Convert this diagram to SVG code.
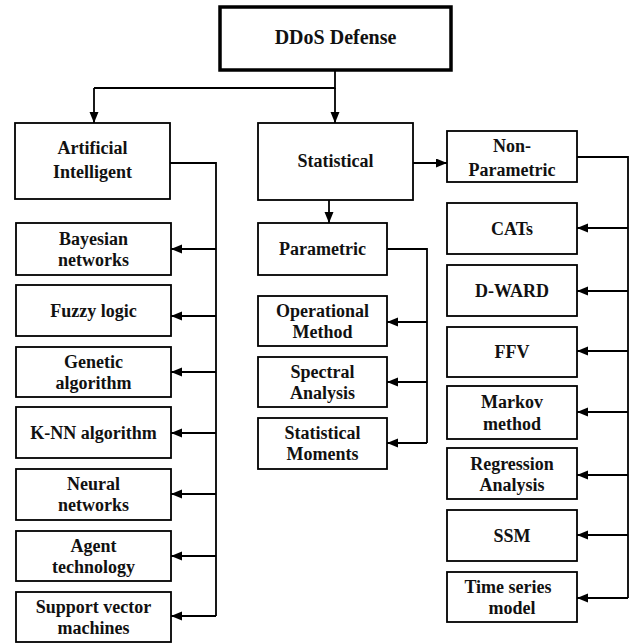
<svg xmlns="http://www.w3.org/2000/svg" width="634" height="644" viewBox="0 0 634 644">
<style>
.box{fill:#fff;stroke:#000;stroke-width:1.8}
.top{fill:#fff;stroke:#000;stroke-width:3.5}
.c{fill:none;stroke:#000;stroke-width:1.8}
</style>
<defs>
<marker id="ah" markerUnits="userSpaceOnUse" markerWidth="12" markerHeight="10" refX="11" refY="4.5" orient="auto"><path d="M0,0 L11,4.5 L0,9 z" fill="#000"/></marker>
</defs>
<rect width="634" height="644" fill="#fff"/>
<g id="connectors">
<path class="c" d="M335,70 V88 H94" />
<path class="c" d="M94,88 V123" marker-end="url(#ah)"/>
<path class="c" d="M335,88 V123" marker-end="url(#ah)"/>
<path class="c" d="M170,163 H216 V616"/>
<path class="c" d="M216,249 H171" marker-end="url(#ah)"/>
<path class="c" d="M216,316 H171" marker-end="url(#ah)"/>
<path class="c" d="M216,372 H171" marker-end="url(#ah)"/>
<path class="c" d="M216,433 H171" marker-end="url(#ah)"/>
<path class="c" d="M216,494 H171" marker-end="url(#ah)"/>
<path class="c" d="M216,556 H171" marker-end="url(#ah)"/>
<path class="c" d="M216,616 H171" marker-end="url(#ah)"/>
<path class="c" d="M413,163 H447" marker-end="url(#ah)"/>
<path class="c" d="M329,200 V223" marker-end="url(#ah)"/>
<path class="c" d="M387,249 H427 V443"/>
<path class="c" d="M427,322 H387" marker-end="url(#ah)"/>
<path class="c" d="M427,382 H387" marker-end="url(#ah)"/>
<path class="c" d="M427,443 H387" marker-end="url(#ah)"/>
<path class="c" d="M577,157 H628 V598"/>
<path class="c" d="M628,228 H577" marker-end="url(#ah)"/>
<path class="c" d="M628,291 H577" marker-end="url(#ah)"/>
<path class="c" d="M628,351 H577" marker-end="url(#ah)"/>
<path class="c" d="M628,412 H577" marker-end="url(#ah)"/>
<path class="c" d="M628,475 H577" marker-end="url(#ah)"/>
<path class="c" d="M628,535 H577" marker-end="url(#ah)"/>
<path class="c" d="M628,598 H577" marker-end="url(#ah)"/>
</g>
<g font-family="'Liberation Serif', 'Times New Roman', serif" font-weight="bold" font-size="18" text-anchor="middle" fill="#111">
<g id="ddos"><rect class="top" x="220" y="7" width="231" height="63"/><text x="335.5" y="44" font-size="20">DDoS Defense</text></g>
<g id="ai"><rect class="box" x="15" y="123" width="155" height="76"/><text x="92.5" y="154">Artificial</text><text x="92.5" y="178">Intelligent</text></g>
<g id="statistical"><rect class="box" x="258" y="123" width="155" height="77"/><text x="335.5" y="167">Statistical</text></g>
<g id="nonparametric"><rect class="box" x="447" y="131" width="130" height="51"/><text x="512" y="152">Non-</text><text x="512" y="176">Parametric</text></g>
<g id="bayesian"><rect class="box" x="16" y="223" width="155" height="52"/><text x="93.5" y="245">Bayesian</text><text x="93.5" y="266">networks</text></g>
<g id="fuzzy"><rect class="box" x="16" y="285" width="155" height="51"/><text x="93.5" y="317">Fuzzy logic</text></g>
<g id="genetic"><rect class="box" x="16" y="347" width="155" height="50"/><text x="93.5" y="368">Genetic</text><text x="93.5" y="389">algorithm</text></g>
<g id="knn"><rect class="box" x="16" y="407" width="155" height="51"/><text x="93.5" y="439">K-NN algorithm</text></g>
<g id="neural"><rect class="box" x="16" y="469" width="155" height="51"/><text x="93.5" y="490">Neural</text><text x="93.5" y="511">networks</text></g>
<g id="agent"><rect class="box" x="16" y="531" width="155" height="50"/><text x="93.5" y="552">Agent</text><text x="93.5" y="573">technology</text></g>
<g id="svm"><rect class="box" x="16" y="592" width="155" height="50"/><text x="93.5" y="613">Support vector</text><text x="93.5" y="634">machines</text></g>
<g id="parametric"><rect class="box" x="258" y="223" width="129" height="52"/><text x="322.5" y="255">Parametric</text></g>
<g id="operational"><rect class="box" x="258" y="296" width="129" height="50"/><text x="322.5" y="317">Operational</text><text x="322.5" y="338">Method</text></g>
<g id="spectral"><rect class="box" x="258" y="357" width="129" height="50"/><text x="322.5" y="378">Spectral</text><text x="322.5" y="399">Analysis</text></g>
<g id="moments"><rect class="box" x="258" y="418" width="129" height="51"/><text x="322.5" y="439">Statistical</text><text x="322.5" y="460">Moments</text></g>
<g id="cats"><rect class="box" x="447" y="203" width="130" height="51"/><text x="512" y="235">CATs</text></g>
<g id="dward"><rect class="box" x="447" y="265" width="130" height="51"/><text x="512" y="297">D-WARD</text></g>
<g id="ffv"><rect class="box" x="447" y="327" width="130" height="50"/><text x="512" y="358">FFV</text></g>
<g id="markov"><rect class="box" x="447" y="386" width="130" height="53"/><text x="512" y="408">Markov</text><text x="512" y="430">method</text></g>
<g id="regression"><rect class="box" x="447" y="448" width="130" height="51"/><text x="512" y="470">Regression</text><text x="512" y="491">Analysis</text></g>
<g id="ssm"><rect class="box" x="447" y="510" width="130" height="51"/><text x="512" y="542">SSM</text></g>
<g id="timeseries"><rect class="box" x="447" y="572" width="130" height="50"/><text x="508" y="593">Time series</text><text x="512" y="614">model</text></g>
</g>
</svg>
